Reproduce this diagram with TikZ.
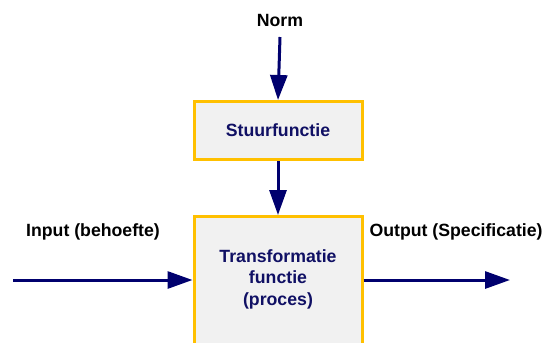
\documentclass[tikz,border=0pt]{standalone}
\usepackage{fontspec}
\setmainfont{Liberation Sans}
\usetikzlibrary{arrows.meta}
\definecolor{navy}{RGB}{0,0,110}
\definecolor{boxtext}{RGB}{16,16,100}
\definecolor{gold}{RGB}{255,192,0}
\definecolor{boxfill}{RGB}{241,241,241}
\tikzset{
  fbox/.style={draw=gold, fill=boxfill, line width=3bp, rectangle, inner sep=0pt},
  btext/.style={font=\bfseries\fontsize{17.7bp}{21.5bp}\selectfont, text=boxtext, align=center},
  otext/.style={font=\bfseries\fontsize{17.7bp}{21.5bp}\selectfont, text=black},
  arr/.style={draw=navy, line width=3bp, -{Triangle[length=25bp,width=17bp]}},
}
\begin{document}
\begin{tikzpicture}[x=1bp,y=-1bp]
\useasboundingbox (0,0) rectangle (542,342);
\clip (0,0) rectangle (542,342);
\node[otext] (norm) at (280,20) {Norm};
\node[fbox, minimum width=168bp, minimum height=58bp, anchor=north] (stuur) at (278,100) {};
\node[btext] (stuurtxt) at (278,130) {Stuurfunctie};
\node[fbox, minimum width=168bp, minimum height=150bp, anchor=north] (trans) at (278,215) {};
\node[btext] (transtxt) at (278,279) {Transformatie\\functie\\(proces)};
\node[otext] (inlbl) at (93,232) {Input (behoefte)};
\node[otext, anchor=west] (outlbl) at (366,232) {Output (Specificatie)};
\coordinate (nstart) at (280,37);
\coordinate (instart) at (13,280);
\coordinate (outend) at (510,280);
\draw[arr] (nstart) -- (stuur.north);
\draw[arr] (stuur.south) -- (trans.north);
\draw[arr] (instart) -- (instart -| trans.west);
\draw[arr] (outend -| trans.east) -- (outend);
\end{tikzpicture}
\end{document}
